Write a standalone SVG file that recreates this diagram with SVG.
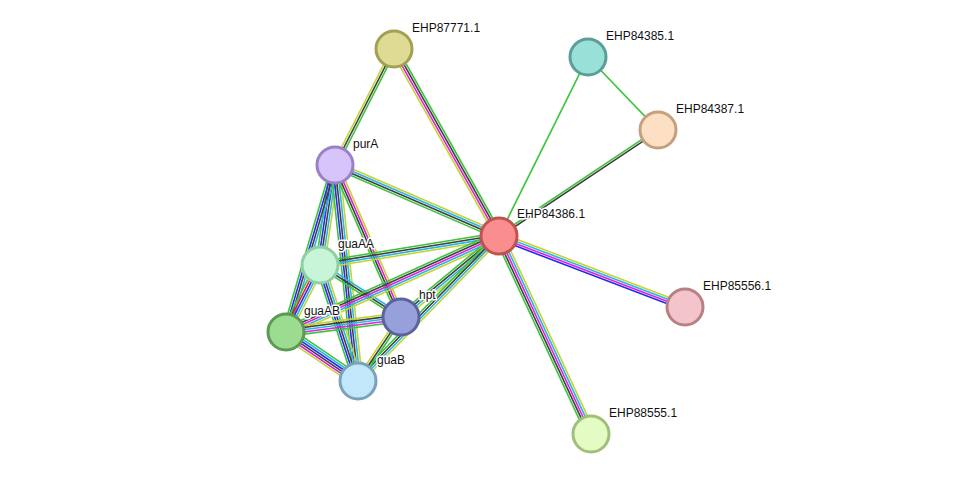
<svg xmlns="http://www.w3.org/2000/svg" width="975" height="480" viewBox="0 0 975 480">
<style>
line{stroke-width:1.6;fill:none}
.g{stroke:#3cc43c}.k{stroke:#404040}.m{stroke:#e020e0}.c{stroke:#28b4e6}.y{stroke:#c4d432}.b{stroke:#2828f0}.r{stroke:#f02020}
circle{stroke-width:3}
text{font-family:"Liberation Sans",Arial,sans-serif;font-size:12px;fill:#111;paint-order:stroke;stroke:#fff;stroke-width:3;stroke-linejoin:round}
</style>
<rect width="975" height="480" fill="#fff"/>
<g id="connectors">
<g transform="translate(335,165) rotate(-63)"><line x1="0" x2="130" y1="-2.2" y2="-2.2" class="y"/><line x1="0" x2="130" y1="0" y2="0" class="k"/><line x1="0" x2="130" y1="2.2" y2="2.2" class="g"/></g>
<g transform="translate(394,49) rotate(60.7)"><line x1="0" x2="214" y1="-3.3" y2="-3.3" class="g"/><line x1="0" x2="214" y1="-1.1" y2="-1.1" class="k"/><line x1="0" x2="214" y1="1.1" y2="1.1" class="m"/><line x1="0" x2="214" y1="3.3" y2="3.3" class="y"/></g>
<g transform="translate(499,236) rotate(-63.6)"><line x1="0" x2="200" class="g"/></g>
<g transform="translate(588,57) rotate(46.2)"><line x1="0" x2="101" class="g"/></g>
<g transform="translate(499,236) rotate(-33.7)"><line x1="0" x2="191" y1="-1.1" y2="-1.1" class="g"/><line x1="0" x2="191" y1="1.1" y2="1.1" class="k"/></g>
<g transform="translate(499,236) rotate(20.9)"><line x1="0" x2="199" y1="-3.3" y2="-3.3" class="y"/><line x1="0" x2="199" y1="-1.1" y2="-1.1" class="c"/><line x1="0" x2="199" y1="1.1" y2="1.1" class="m"/><line x1="0" x2="199" y1="3.3" y2="3.3" class="b"/></g>
<g transform="translate(499,236) rotate(65.1)"><line x1="0" x2="218" y1="4.4" y2="4.4" class="g"/><line x1="0" x2="218" y1="2.2" y2="2.2" class="k"/><line x1="0" x2="218" y1="0" y2="0" class="m"/><line x1="0" x2="218" y1="-2.2" y2="-2.2" class="c"/><line x1="0" x2="218" y1="-4.4" y2="-4.4" class="y"/></g>
<g transform="translate(335,165) rotate(23.4)"><line x1="0" x2="179" y1="-3.3" y2="-3.3" class="y"/><line x1="0" x2="179" y1="-1.1" y2="-1.1" class="c"/><line x1="0" x2="179" y1="1.1" y2="1.1" class="k"/><line x1="0" x2="179" y1="3.3" y2="3.3" class="g"/></g>
<g transform="translate(335,165) rotate(98.5)"><line x1="0" x2="101" y1="-4.4" y2="-4.4" class="y"/><line x1="0" x2="101" y1="-2.2" y2="-2.2" class="c"/><line x1="0" x2="101" y1="0" y2="0" class="k"/><line x1="0" x2="101" y1="2.2" y2="2.2" class="b"/><line x1="0" x2="101" y1="4.4" y2="4.4" class="g"/></g>
<g transform="translate(335,165) rotate(106.4)"><line x1="0" x2="174" y1="-3.3" y2="-3.3" class="c"/><line x1="0" x2="174" y1="-1.1" y2="-1.1" class="k"/><line x1="0" x2="174" y1="1.1" y2="1.1" class="b"/><line x1="0" x2="174" y1="3.3" y2="3.3" class="g"/></g>
<g transform="translate(335,165) rotate(83.9)"><line x1="0" x2="217" y1="-4.4" y2="-4.4" class="y"/><line x1="0" x2="217" y1="-2.2" y2="-2.2" class="c"/><line x1="0" x2="217" y1="0" y2="0" class="k"/><line x1="0" x2="217" y1="2.2" y2="2.2" class="b"/><line x1="0" x2="217" y1="4.4" y2="4.4" class="g"/></g>
<g transform="translate(335,165) rotate(66.5)"><line x1="0" x2="166" y1="-3.3" y2="-3.3" class="y"/><line x1="0" x2="166" y1="-1.1" y2="-1.1" class="m"/><line x1="0" x2="166" y1="1.1" y2="1.1" class="k"/><line x1="0" x2="166" y1="3.3" y2="3.3" class="g"/></g>
<g transform="translate(320,265) rotate(-9.2)"><line x1="0" x2="181" y1="-3.3" y2="-3.3" class="g"/><line x1="0" x2="181" y1="-1.1" y2="-1.1" class="k"/><line x1="0" x2="181" y1="1.1" y2="1.1" class="c"/><line x1="0" x2="181" y1="3.3" y2="3.3" class="y"/></g>
<g transform="translate(320,265) rotate(116.9)"><line x1="0" x2="75" y1="-4.4" y2="-4.4" class="y"/><line x1="0" x2="75" y1="-2.2" y2="-2.2" class="c"/><line x1="0" x2="75" y1="0" y2="0" class="b"/><line x1="0" x2="75" y1="2.2" y2="2.2" class="r"/><line x1="0" x2="75" y1="4.4" y2="4.4" class="g"/></g>
<g transform="translate(320,265) rotate(71.9)"><line x1="0" x2="122" y1="-4.4" y2="-4.4" class="y"/><line x1="0" x2="122" y1="-2.2" y2="-2.2" class="c"/><line x1="0" x2="122" y1="0" y2="0" class="k"/><line x1="0" x2="122" y1="2.2" y2="2.2" class="b"/><line x1="0" x2="122" y1="4.4" y2="4.4" class="g"/></g>
<g transform="translate(320,265) rotate(32.7)"><line x1="0" x2="96" y1="-2.2" y2="-2.2" class="c"/><line x1="0" x2="96" y1="0" y2="0" class="k"/><line x1="0" x2="96" y1="2.2" y2="2.2" class="g"/></g>
<g transform="translate(286,332) rotate(-24.3)"><line x1="0" x2="234" y1="-4.4" y2="-4.4" class="g"/><line x1="0" x2="234" y1="-2.2" y2="-2.2" class="k"/><line x1="0" x2="234" y1="0" y2="0" class="m"/><line x1="0" x2="234" y1="2.2" y2="2.2" class="c"/><line x1="0" x2="234" y1="4.4" y2="4.4" class="y"/></g>
<g transform="translate(286,332) rotate(-7.4)"><line x1="0" x2="116" y1="-4.4" y2="-4.4" class="y"/><line x1="0" x2="116" y1="-2.2" y2="-2.2" class="k"/><line x1="0" x2="116" y1="0" y2="0" class="c"/><line x1="0" x2="116" y1="2.2" y2="2.2" class="m"/><line x1="0" x2="116" y1="4.4" y2="4.4" class="g"/></g>
<g transform="translate(286,332) rotate(34.2)"><line x1="0" x2="87" y1="-5.5" y2="-5.5" class="g"/><line x1="0" x2="87" y1="-3.3" y2="-3.3" class="c"/><line x1="0" x2="87" y1="-1.1" y2="-1.1" class="b"/><line x1="0" x2="87" y1="1.1" y2="1.1" class="k"/><line x1="0" x2="87" y1="3.3" y2="3.3" class="m"/><line x1="0" x2="87" y1="5.5" y2="5.5" class="y"/></g>
<g transform="translate(401,317) rotate(-39.6)"><line x1="0" x2="127" y1="-3.3" y2="-3.3" class="g"/><line x1="0" x2="127" y1="-1.1" y2="-1.1" class="k"/><line x1="0" x2="127" y1="1.1" y2="1.1" class="c"/><line x1="0" x2="127" y1="3.3" y2="3.3" class="y"/></g>
<g transform="translate(358,381) rotate(-45.8)"><line x1="0" x2="202" y1="-3.3" y2="-3.3" class="g"/><line x1="0" x2="202" y1="-1.1" y2="-1.1" class="k"/><line x1="0" x2="202" y1="1.1" y2="1.1" class="c"/><line x1="0" x2="202" y1="3.3" y2="3.3" class="y"/></g>
<g transform="translate(358,381) rotate(-56.1)"><line x1="0" x2="77" y1="-2.2" y2="-2.2" class="y"/><line x1="0" x2="77" y1="0" y2="0" class="k"/><line x1="0" x2="77" y1="2.2" y2="2.2" class="g"/></g>
</g>
<g id="EHP87771.1"><circle cx="394" cy="49" r="18" fill="#dedc94" stroke="#a4a052"/><text x="412" y="32">EHP87771.1</text></g>
<g id="EHP84385.1"><circle cx="588" cy="57" r="18" fill="#98e0d8" stroke="#5a9e98"/><text x="606" y="40">EHP84385.1</text></g>
<g id="EHP84387.1"><circle cx="658" cy="130" r="18" fill="#fde0c4" stroke="#c4a07e"/><text x="676" y="113">EHP84387.1</text></g>
<g id="purA"><circle cx="335" cy="165" r="18" fill="#d6c4fa" stroke="#9a80c8"/><text x="353" y="148">purA</text></g>
<g id="EHP84386.1"><circle cx="499" cy="236" r="18" fill="#fa8e8e" stroke="#c05252"/><text x="517" y="218">EHP84386.1</text></g>
<g id="guaAA"><circle cx="320" cy="265" r="18" fill="#c8f4d8" stroke="#8ed0a4"/><text x="338" y="248">guaAA</text></g>
<g id="hpt"><circle cx="401" cy="317" r="18" fill="#98a0dc" stroke="#5a62a0"/><text x="419" y="299">hpt</text></g>
<g id="guaAB"><circle cx="286" cy="332" r="18" fill="#9cdc90" stroke="#5a9a52"/><text x="304" y="315">guaAB</text></g>
<g id="guaB"><circle cx="358" cy="381" r="18" fill="#c2e6fa" stroke="#7aa2bc"/><text x="377" y="364">guaB</text></g>
<g id="EHP85556.1"><circle cx="685" cy="307" r="18" fill="#f4c4cc" stroke="#b88084"/><text x="703" y="290">EHP85556.1</text></g>
<g id="EHP88555.1"><circle cx="591" cy="434" r="18" fill="#e2fcc4" stroke="#a2be7c"/><text x="609" y="417">EHP88555.1</text></g>
</svg>
